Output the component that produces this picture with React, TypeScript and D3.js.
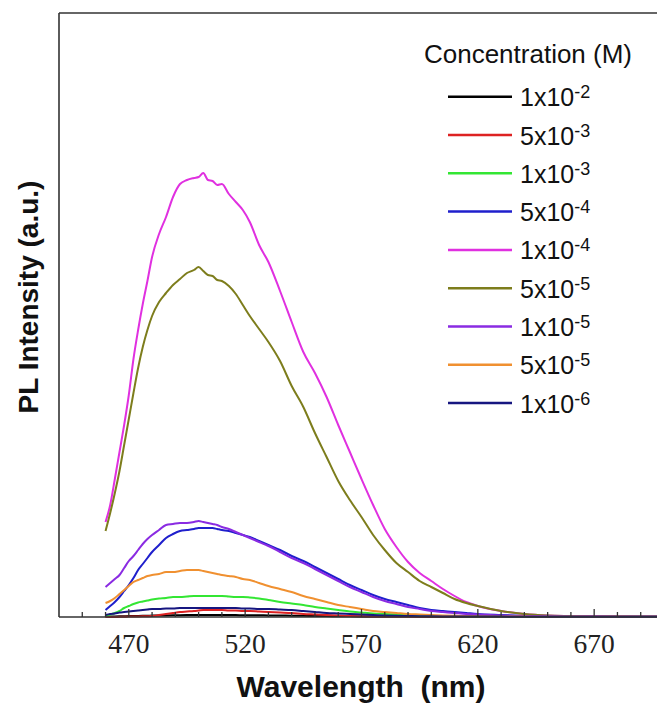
import React from "react";
import * as d3 from "d3";

// ---------- data ----------
const wavelengths = [460, 462, 464, 466, 468, 470, 472, 474, 476, 478, 480, 483, 486, 489, 492, 495, 498, 500, 502, 504, 506, 508, 510, 513, 516, 519, 522, 526, 530, 535, 540, 545, 550, 555, 560, 565, 570, 575, 580, 585, 590, 595, 600, 605, 610, 615, 620, 630, 640, 650, 660, 670, 680, 697];

const conc_1e2 = [0.4, 0.5, 0.6, 0.7, 0.8, 0.9, 1, 1.1, 1.2, 1.3, 1.4, 1.5, 1.6, 1.7, 1.8, 1.9, 2, 2, 2, 2, 2, 2, 2, 1.9, 1.9, 1.8, 1.8, 1.7, 1.6, 1.5, 1.3, 1.2, 1, 0.9, 0.8, 0.7, 0.6, 0.5, 0.5, 0.4, 0.4, 0.4, 0.3, 0.3, 0.3, 0.3, 0.3, 0.3, 0.3, 0.3, 0.3, 0.3, 0.3, 0.3];
const conc_5e3 = [0, 0, 0, 0.2, 0.3, 0.4, 0.5, 0.6, 0.7, 0.8, 1, 2, 3, 4, 5, 5.5, 6, 6.5, 7, 7, 7, 7, 7, 6.5, 6.5, 6, 6, 5.5, 5, 4.5, 4, 3, 2.5, 2, 1.5, 1, 0.8, 0.6, 0.5, 0.4, 0.4, 0.3, 0.3, 0.3, 0.3, 0.3, 0.3, 0.3, 0.3, 0.3, 0.3, 0.3, 0.3, 0.3];
const conc_1e3 = [1, 2.5, 4, 6, 9, 11, 13, 14.5, 15.5, 16.5, 17.5, 18.5, 19, 20, 20, 20.5, 21, 21, 21, 21, 21, 21, 21, 20.5, 20, 20, 19.5, 18.5, 17, 15, 13.5, 12, 10, 8.5, 7, 5.5, 4.5, 3.5, 3, 2.5, 2, 1.5, 1.2, 1, 0.8, 0.6, 0.5, 0.4, 0.3, 0.3, 0.3, 0.3, 0.3, 0.3];
const conc_5e4 = [7, 11, 15, 20, 26, 32, 39, 47, 53, 59, 65, 72, 79, 83, 86, 87, 88, 89, 89, 89, 89, 88, 87, 86, 84, 82, 80, 76, 72, 67, 61, 56, 50, 44, 38, 32, 27, 22, 18, 15, 12, 9, 7, 6, 5, 4, 3, 2, 1.2, 0.8, 0.6, 0.4, 0.3, 0.3];
const conc_1e4 = [95, 112, 138, 165, 192, 222, 258, 287, 313, 336, 360, 383, 400, 420, 433, 437, 439, 440, 444, 437, 436, 432, 433, 423, 415, 407, 395, 372, 355, 326, 295, 265, 244, 220, 192, 165, 138, 112, 88, 70, 55, 44, 36, 28, 21, 15, 11, 6, 3, 1.5, 1, 0.6, 0.4, 0.3];
const conc_5e5 = [86, 104, 124, 146, 172, 198, 224, 249, 270, 287, 301, 315, 324, 332, 338, 344, 347, 350, 346, 342, 341, 337, 336, 331, 323, 312, 301, 288, 275, 256, 231, 210, 184, 160, 136, 117, 100, 82, 67, 54, 45, 36, 30, 24, 18, 14, 11, 6, 3, 1.5, 1, 0.6, 0.4, 0.3];
const conc_1e5 = [30, 34, 38, 42, 49, 56, 61, 67, 73, 78, 82, 87, 92, 93, 94, 94, 95, 96, 95, 94, 93, 92, 90, 88, 85, 82, 79, 75, 71, 65, 59, 54, 48, 42, 36, 30, 25, 20, 16, 13, 10, 8, 6, 5, 4, 3, 2.5, 1.5, 1, 0.7, 0.5, 0.4, 0.3, 0.3];
const conc_5e5b = [14, 16, 19, 23, 27, 31, 35, 37, 39, 41, 42, 43, 45, 45, 46, 47, 47, 47, 46, 45, 44, 43, 42, 41, 40, 38, 37, 34, 31, 28, 25, 21, 18, 15, 12, 10, 8, 6, 5, 4, 3, 2.5, 2, 1.5, 1.2, 1, 0.8, 0.5, 0.4, 0.3, 0.3, 0.2, 0.2, 0.2];
const conc_1e6 = [2, 3, 3.5, 4.5, 5, 5.5, 6, 6.5, 7, 7.5, 8, 8, 8.5, 8.5, 9, 9, 9, 9, 9, 9, 9, 9, 9, 9, 9, 8.5, 8.5, 8, 8, 7.5, 7, 6, 5, 4, 3.5, 3, 2.5, 2, 1.5, 1.2, 1, 0.8, 0.7, 0.6, 0.5, 0.5, 0.4, 0.4, 0.3, 0.3, 0.3, 0.3, 0.3, 0.3];

const legendMain = ["1x10", "5x10", "1x10", "5x10", "1x10", "5x10", "1x10", "5x10", "1x10"];
const legendSup = ["-2", "-3", "-3", "-4", "-4", "-5", "-5", "-5", "-6"];
const seriesColors = ["#000000", "#dd2222", "#33e633", "#1f1fcc", "#e030e0", "#7d7d1c", "#8a2be2", "#f09030", "#161680"];
const seriesValues = [conc_1e2, conc_5e3, conc_1e3, conc_5e4, conc_1e4, conc_5e5, conc_1e5, conc_5e5b, conc_1e6];

const majorTicks = [470, 520, 570, 620, 670];
const minorTicks = d3.range(450, 700, 10);

const xDomain = [440, 697];
const yDomain = [0, 604];

// ---------- layout ----------
const W = 657;
const H = 704;
const left = 59;
const right = 657;
const top = 13;
const bottom = 617;

const sans = '"Liberation Sans", Arial, sans-serif';
const serif = '"Liberation Serif", "Times New Roman", serif';

export default function App() {
  const x = d3.scaleLinear().domain(xDomain).range([left, right]);
  const y = d3.scaleLinear().domain(yDomain).range([bottom, top]);
  const line = d3
    .line<number>()
    .x((_, i) => x(wavelengths[i]))
    .y((d) => y(d))
    .curve(d3.curveMonotoneX);

  const legendX1 = 448;
  const legendX2 = 512;
  const legendY0 = 96.7;
  const legendStep = 38.3;

  return (
    <svg
      width={W}
      height={H}
      style={{ position: "absolute", left: 0, top: 0, background: "#fff", fontFamily: sans }}
    >
      <rect x={0} y={0} width={W} height={H} fill="#fff" />
      {/* series */}
      <g fill="none" strokeWidth={2} strokeLinejoin="round">
        {seriesValues.map((vals, i) => (
          <path key={i} d={line(vals) || ""} stroke={seriesColors[i]} />
        ))}
      </g>
      {/* frame */}
      <g stroke="#333" strokeWidth={1.6} fill="none">
        <line x1={left} x2={left} y1={top} y2={bottom} />
        <line x1={left} x2={W} y1={top} y2={top} />
        <line x1={left} x2={W} y1={bottom} y2={bottom} />
        {minorTicks.map((t) => (
          <line
            key={t}
            x1={x(t)}
            x2={x(t)}
            y1={bottom}
            y2={bottom - (majorTicks.includes(t) ? 8 : 5)}
            strokeWidth={1.3}
          />
        ))}
      </g>
      {/* tick labels */}
      <g fill="#222" textAnchor="middle">
        {majorTicks.map((t) => (
          <text key={t} x={x(t)} y={653} style={{ fontFamily: serif, fontSize: "27.5px" }}>
            {t}
          </text>
        ))}
      </g>
      {/* axis titles */}
      <text
        x={361}
        y={697}
        textAnchor="middle"
        fill="#111"
        style={{ whiteSpace: "pre", fontFamily: sans, fontWeight: "bold", fontSize: "30px" }}
      >
        {"Wavelength  (nm)"}
      </text>
      <text
        transform="translate(38,297) rotate(-90)"
        textAnchor="middle"
        fill="#111"
        style={{ fontFamily: sans, fontWeight: "bold", fontSize: "28px" }}
      >
        PL Intensity (a.u.)
      </text>
      {/* legend */}
      <text x={528} y={63} textAnchor="middle" fill="#111" style={{ fontFamily: sans, fontSize: "26px" }}>
        Concentration (M)
      </text>
      {legendMain.map((m, i) => {
        const ly = legendY0 + i * legendStep;
        return (
          <g key={i}>
            <line x1={legendX1} x2={legendX2} y1={ly} y2={ly} stroke={seriesColors[i]} strokeWidth={2.5} />
            <text x={520} y={ly + 9.5} fill="#111" style={{ fontFamily: sans, fontSize: "25px" }}>
              {m}
              <tspan dy={-8} style={{ fontSize: "18px" }}>
                {legendSup[i]}
              </tspan>
            </text>
          </g>
        );
      })}
    </svg>
  );
}
